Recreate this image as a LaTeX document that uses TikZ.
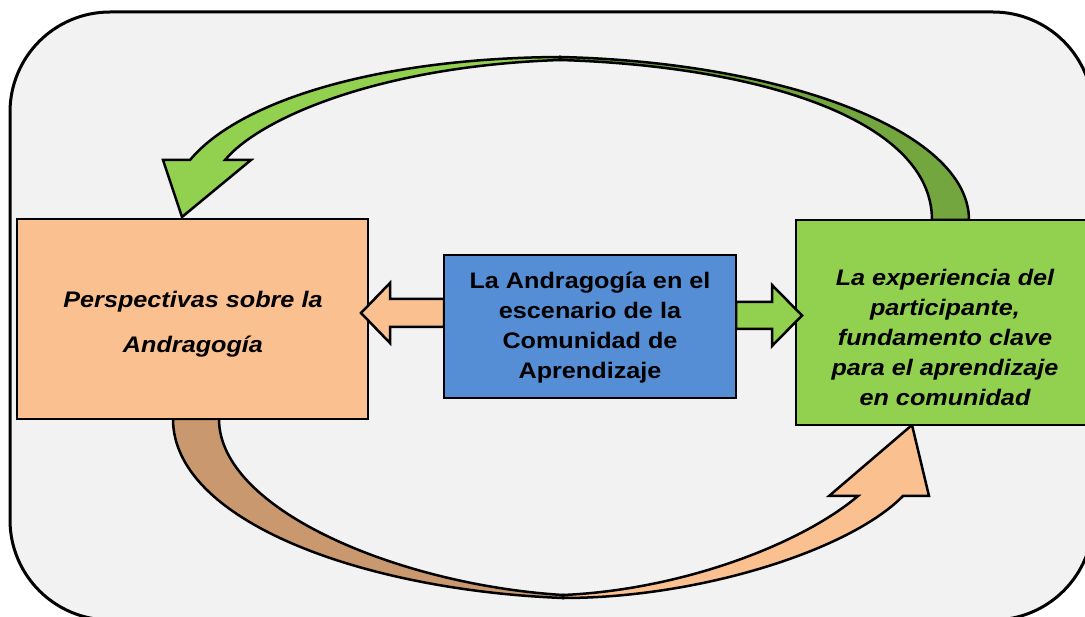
\documentclass[tikz,border=0pt]{standalone}
\usepackage{fontspec}
\setmainfont{Liberation Sans}[FakeStretch=1.12]
\definecolor{bgc}{HTML}{F2F2F2}
\definecolor{orangec}{HTML}{FAC090}
\definecolor{greenc}{HTML}{92D050}
\definecolor{bluec}{HTML}{558ED5}
\definecolor{darkgreenc}{HTML}{74A640}
\definecolor{tanc}{HTML}{C9986E}
\begin{document}
\begin{tikzpicture}[x=1pt,y=-1pt,
  box/.style={draw=black, line width=1.5pt, inner sep=0pt},
  blockarrow/.style={draw=black, line width=2.5pt, line join=miter, miter limit=10},
  curvedarrow/.style={draw=black, line width=2.5pt, line join=miter, miter limit=10},
  sidetext/.style={align=center, font=\fontsize{22.5}{30}\selectfont\bfseries\itshape},
  midtext/.style={align=center, font=\fontsize{22.5}{30}\selectfont\bfseries}]
\useasboundingbox (0,0) rectangle (1085,617);
\fill[white] (0,0) rectangle (1085,617);
\clip (0,0) rectangle (1085,617);
% outer frame
\draw[line width=3pt, fill=bgc, rounded corners=100pt] (10,12) rectangle (1093,620);
% top curved arrow (green)
\path[curvedarrow, fill=darkgreenc]
  (969,220) .. controls (969,130) and (780,62) .. (560,57)
  -- (560,60) .. controls (760,66) and (932,120) .. (932,220) -- cycle;
\path[curvedarrow, fill=greenc]
  (560,57) .. controls (380,58) and (240,100) .. (190,160)
  -- (163,160) -- (182,217) -- (251,160) -- (225,160)
  .. controls (260,118) and (380,66) .. (560,60) -- cycle;
% bottom curved arrow (orange)
\path[curvedarrow, fill=tanc]
  (173,419) .. controls (173,520) and (360,590) .. (563,598)
  -- (563,595) .. controls (400,585) and (219,510) .. (219,419) -- cycle;
\path[curvedarrow, fill=orangec]
  (563,598) .. controls (700,598) and (850,550) .. (903,496)
  -- (929,496) -- (912,425) -- (829,496) -- (858,496)
  .. controls (800,545) and (680,590) .. (563,595) -- cycle;
% side boxes
\node[box, fill=orangec, minimum width=351pt, minimum height=200pt] (persp) at (192.5,319) {};
\node[box, fill=greenc, minimum width=298pt, minimum height=205pt] (exper) at (945,322.5) {};
% straight block arrows
\path[blockarrow, fill=orangec]
  (444,299) -- (390,299) -- (390,283) -- (361,313) -- (390,343) -- (390,327) -- (444,327) -- cycle;
\path[blockarrow, fill=greenc]
  (736,302) -- (772,302) -- (772,285) -- (802,315.5) -- (772,346) -- (772,329) -- (736,329) -- cycle;
% central box
\node[box, fill=bluec, minimum width=292pt, minimum height=143pt] (andra) at (590,326.5) {};
% texts
\node[sidetext, font=\fontsize{22.5}{45}\selectfont\bfseries\itshape] (persptext) at (193,324.5) {Perspectivas sobre la\\Andragogía};
\node[midtext] (andratext) at (590,327.5) {La Andragogía en el\\escenario de la\\Comunidad de\\Aprendizaje};
\node[sidetext] (expertext) at (945,337) {La experiencia del\\participante,\\fundamento clave\\para el aprendizaje\\en comunidad};
\end{tikzpicture}
\end{document}
